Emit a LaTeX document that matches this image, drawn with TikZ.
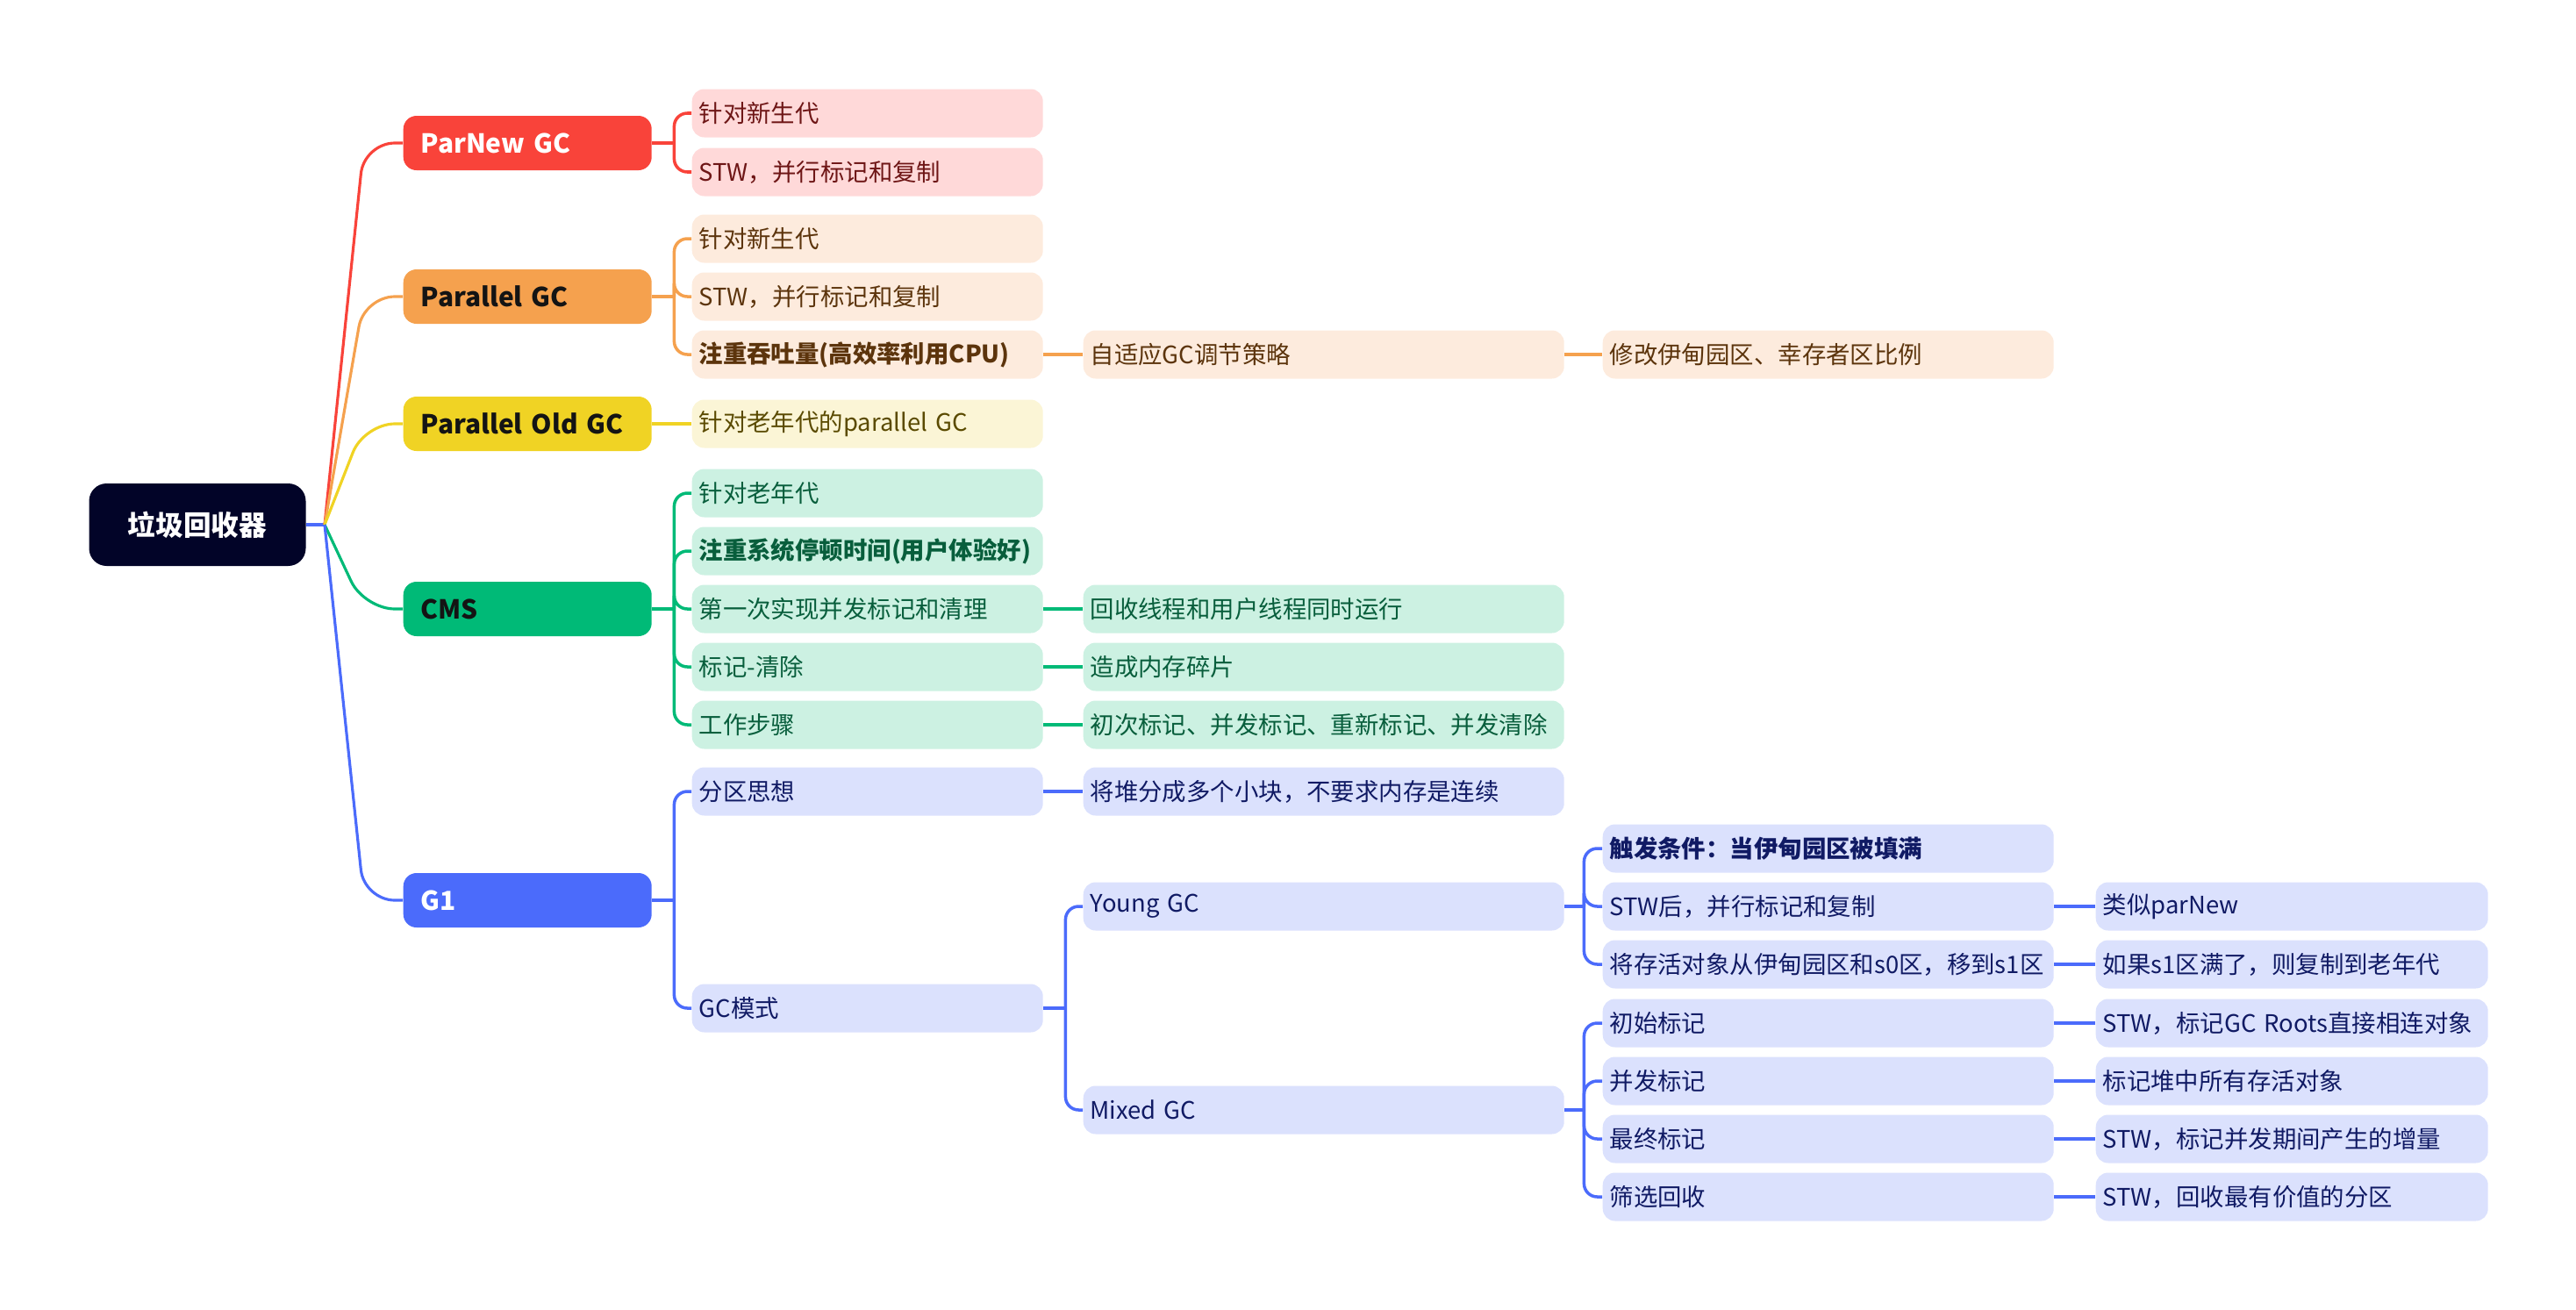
\documentclass[tikz,border=0pt]{standalone}
\usepackage{fontspec}
\setmainfont{Noto Sans CJK SC}
\usepackage{xcolor}
\definecolor{rootnavy}{RGB}{2, 4, 40}
\definecolor{parnewred}{RGB}{249, 67, 58}
\definecolor{parnewlight}{RGB}{255, 217, 217}
\definecolor{parnewtext}{RGB}{110, 22, 22}
\definecolor{parallelorange}{RGB}{245, 161, 78}
\definecolor{parallellight}{RGB}{253, 235, 221}
\definecolor{paralleltext}{RGB}{92, 52, 12}
\definecolor{oldyellow}{RGB}{240, 211, 36}
\definecolor{oldlight}{RGB}{251, 245, 214}
\definecolor{oldtext}{RGB}{90, 74, 0}
\definecolor{cmsgreen}{RGB}{0, 186, 119}
\definecolor{cmslight}{RGB}{204, 241, 226}
\definecolor{cmstext}{RGB}{8, 94, 60}
\definecolor{goneblue}{RGB}{75, 107, 251}
\definecolor{gonelight}{RGB}{219, 225, 253}
\definecolor{gonetext}{RGB}{16, 26, 100}
\definecolor{textdark}{RGB}{20, 20, 20}

\begin{document}
\begin{tikzpicture}[
    rootbox/.style={rectangle, fill=rootnavy, rounded corners=0.2cm, minimum width=2.47cm, minimum height=0.94cm, text=white, font=\bfseries\fontsize{9}{11}\selectfont},
    gcbox/.style={rectangle, anchor=west, rounded corners=0.15cm, minimum height=0.62cm, inner xsep=0.2cm, text width=2.43cm, align=left, font=\bfseries\fontsize{8.5}{10}\selectfont},
    notebox/.style={rectangle, anchor=west, rounded corners=0.14cm, minimum height=0.55cm, inner xsep=0.08cm, align=left, font=\fontsize{7.8}{9.5}\selectfont},
    colb/.style={notebox, text width=3.84cm},
    colc/.style={notebox, text width=5.32cm},
    cold/.style={notebox, text width=4.98cm},
    cole/.style={notebox, text width=4.31cm},
    pnnote/.style={fill=parnewlight, text=parnewtext},
    panote/.style={fill=parallellight, text=paralleltext},
    ponote/.style={fill=oldlight, text=oldtext},
    cmnote/.style={fill=cmslight, text=cmstext},
    g1note/.style={fill=gonelight, text=gonetext},
    fanline/.style={line width=0.9pt, rounded corners=0.35cm},
    stubline/.style={line width=1.3pt},
    link/.style={line width=1pt, rounded corners=0.15cm},
]
\useasboundingbox (0,0) rectangle (29.36,-14.92);

% Root
\node[rootbox] (root) at (2.25,-5.98) {垃圾回收器};
\coordinate (hub) at (3.70,-5.98);

% Collectors
\node[gcbox, fill=parnewred, text=white] (parnew) at (4.59,-1.63) {ParNew GC};
\node[gcbox, fill=parallelorange, text=textdark] (parallel) at (4.59,-3.38) {Parallel GC};
\node[gcbox, fill=oldyellow, text=textdark] (parold) at (4.59,-4.83) {Parallel Old GC};
\node[gcbox, fill=cmsgreen, text=textdark] (cms) at (4.59,-6.94) {CMS};
\node[gcbox, fill=goneblue, text=white] (gone) at (4.59,-10.26) {G1};

% Root fan
\draw[stubline, goneblue] (root.east) -- (hub);
\draw[fanline, parnewred] (hub) -- ([xshift=-0.44cm]parnew.west) -- (parnew.west);
\draw[fanline, parallelorange] (hub) -- ([xshift=-0.44cm]parallel.west) -- (parallel.west);
\draw[fanline, oldyellow] (hub) -- ([xshift=-0.44cm]parold.west) -- (parold.west);
\draw[fanline, cmsgreen] (hub) -- ([xshift=-0.44cm]cms.west) -- (cms.west);
\draw[fanline, goneblue] (hub) -- ([xshift=-0.44cm]gone.west) -- (gone.west);

% ParNew GC
\node[colb, pnnote] (pn1) at (7.88,-1.29) {针对新生代};
\node[colb, pnnote] (pn2) at (7.88,-1.96) {STW，并行标记和复制};
\draw[stubline, parnewred] (parnew.east) -- ++(0.25,0) coordinate (pnj);
\draw[link, parnewred] (pnj) |- (pn1.west);
\draw[link, parnewred] (pnj) |- (pn2.west);

% Parallel GC
\node[colb, panote] (pa1) at (7.88,-2.72) {针对新生代};
\node[colb, panote] (pa2) at (7.88,-3.38) {STW，并行标记和复制};
\node[colb, panote, font=\bfseries\fontsize{7.8}{9.5}\selectfont] (pa3) at (7.88,-4.04) {注重吞吐量(高效率利用CPU)};
\node[colc, panote] (pa3a) at (12.34,-4.04) {自适应GC调节策略};
\node[cold, panote] (pa3b) at (18.26,-4.04) {修改伊甸园区、幸存者区比例};
\draw[stubline, parallelorange] (parallel.east) -- ++(0.25,0) coordinate (paj);
\draw[link, parallelorange] (paj) |- (pa1.west);
\draw[link, parallelorange] (paj) |- (pa2.west);
\draw[link, parallelorange] (paj) |- (pa3.west);
\draw[stubline, parallelorange] (pa3) -- (pa3a);
\draw[stubline, parallelorange] (pa3a) -- (pa3b);

% Parallel Old GC
\node[colb, ponote] (po1) at (7.88,-4.83) {针对老年代的parallel GC};
\draw[stubline, oldyellow] (parold) -- (po1);

% CMS
\node[colb, cmnote] (cm1) at (7.88,-5.62) {针对老年代};
\node[colb, cmnote, font=\bfseries\fontsize{7.8}{9.5}\selectfont] (cm2) at (7.88,-6.28) {注重系统停顿时间(用户体验好)};
\node[colb, cmnote] (cm3) at (7.88,-6.94) {第一次实现并发标记和清理};
\node[colb, cmnote] (cm4) at (7.88,-7.60) {标记-清除};
\node[colb, cmnote] (cm5) at (7.88,-8.26) {工作步骤};
\node[colc, cmnote] (cm3a) at (12.34,-6.94) {回收线程和用户线程同时运行};
\node[colc, cmnote] (cm4a) at (12.34,-7.60) {造成内存碎片};
\node[colc, cmnote] (cm5a) at (12.34,-8.26) {初次标记、并发标记、重新标记、并发清除};
\draw[stubline, cmsgreen] (cms.east) -- ++(0.25,0) coordinate (cmj);
\draw[link, cmsgreen] (cmj) |- (cm1.west);
\draw[link, cmsgreen] (cmj) |- (cm2.west);
\draw[link, cmsgreen] (cmj) |- (cm3.west);
\draw[link, cmsgreen] (cmj) |- (cm4.west);
\draw[link, cmsgreen] (cmj) |- (cm5.west);
\draw[stubline, cmsgreen] (cm3) -- (cm3a);
\draw[stubline, cmsgreen] (cm4) -- (cm4a);
\draw[stubline, cmsgreen] (cm5) -- (cm5a);

% G1
\node[colb, g1note] (g1a) at (7.88,-9.02) {分区思想};
\node[colb, g1note] (g1b) at (7.88,-11.49) {GC模式};
\node[colc, g1note] (g1aa) at (12.34,-9.02) {将堆分成多个小块，不要求内存是连续};
\node[colc, g1note] (young) at (12.34,-10.33) {Young GC};
\node[colc, g1note] (mixed) at (12.34,-12.65) {Mixed GC};
\draw[stubline, goneblue] (gone.east) -- ++(0.25,0) coordinate (gj);
\draw[link, goneblue] (gj) |- (g1a.west);
\draw[link, goneblue] (gj) |- (g1b.west);
\draw[stubline, goneblue] (g1a) -- (g1aa);
\draw[stubline, goneblue] (g1b.east) -- ++(0.25,0) coordinate (gcj);
\draw[link, goneblue] (gcj) |- (young.west);
\draw[link, goneblue] (gcj) |- (mixed.west);

% Young GC
\node[cold, g1note, font=\bfseries\fontsize{7.8}{9.5}\selectfont] (yg1) at (18.26,-9.67) {触发条件：当伊甸园区被填满};
\node[cold, g1note] (yg2) at (18.26,-10.33) {STW后，并行标记和复制};
\node[cold, g1note] (yg3) at (18.26,-10.99) {将存活对象从伊甸园区和s0区，移到s1区};
\node[cole, g1note] (yg2a) at (23.88,-10.33) {类似parNew};
\node[cole, g1note] (yg3a) at (23.88,-10.99) {如果s1区满了，则复制到老年代};
\draw[stubline, goneblue] (young.east) -- ++(0.22,0) coordinate (ygj);
\draw[link, goneblue] (ygj) |- (yg1.west);
\draw[link, goneblue] (ygj) |- (yg2.west);
\draw[link, goneblue] (ygj) |- (yg3.west);
\draw[stubline, goneblue] (yg2) -- (yg2a);
\draw[stubline, goneblue] (yg3) -- (yg3a);

% Mixed GC
\node[cold, g1note] (mx1) at (18.26,-11.66) {初始标记};
\node[cold, g1note] (mx2) at (18.26,-12.32) {并发标记};
\node[cold, g1note] (mx3) at (18.26,-12.98) {最终标记};
\node[cold, g1note] (mx4) at (18.26,-13.64) {筛选回收};
\node[cole, g1note] (mx1a) at (23.88,-11.66) {STW，标记GC Roots直接相连对象};
\node[cole, g1note] (mx2a) at (23.88,-12.32) {标记堆中所有存活对象};
\node[cole, g1note] (mx3a) at (23.88,-12.98) {STW，标记并发期间产生的增量};
\node[cole, g1note] (mx4a) at (23.88,-13.64) {STW，回收最有价值的分区};
\draw[stubline, goneblue] (mixed.east) -- ++(0.22,0) coordinate (mxj);
\draw[link, goneblue] (mxj) |- (mx1.west);
\draw[link, goneblue] (mxj) |- (mx2.west);
\draw[link, goneblue] (mxj) |- (mx3.west);
\draw[link, goneblue] (mxj) |- (mx4.west);
\draw[stubline, goneblue] (mx1) -- (mx1a);
\draw[stubline, goneblue] (mx2) -- (mx2a);
\draw[stubline, goneblue] (mx3) -- (mx3a);
\draw[stubline, goneblue] (mx4) -- (mx4a);

\end{tikzpicture}
\end{document}
